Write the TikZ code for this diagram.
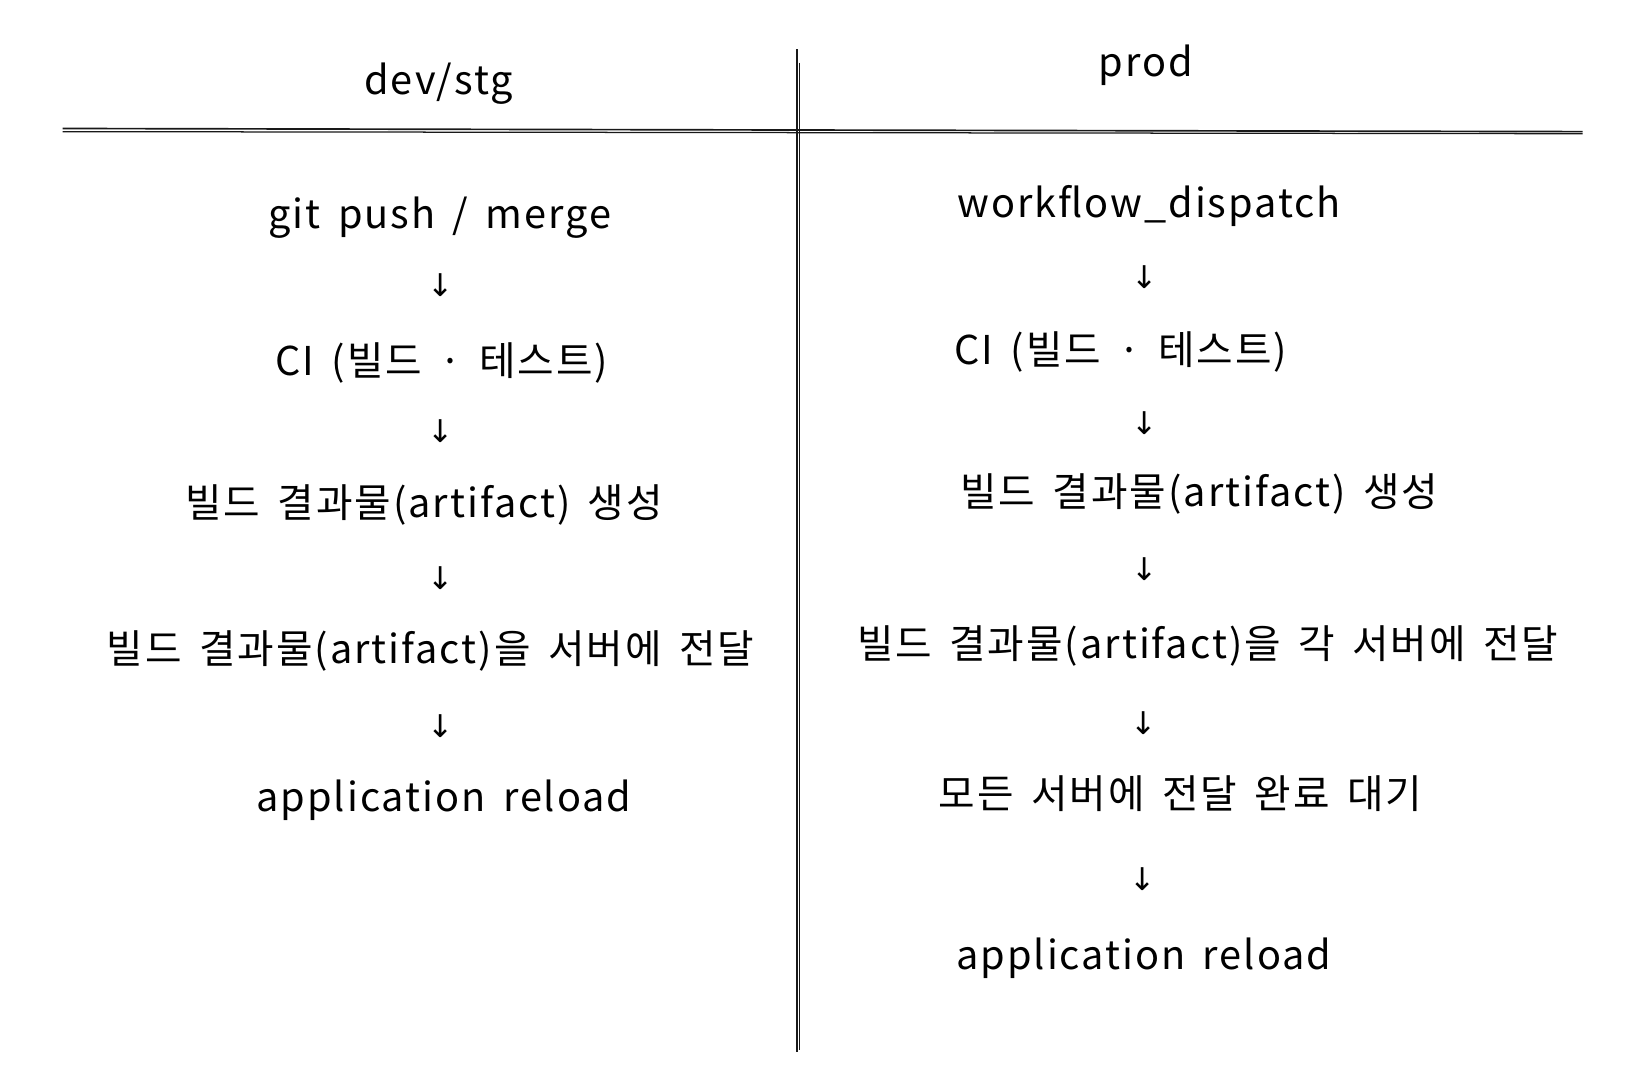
\documentclass[tikz,border=0pt]{standalone}
\usepackage{fontspec}
\setmainfont[LetterSpace=5,WordSpace=1.6]{Noto Sans CJK KR}
\newfontfamily\arrowfont{DejaVu Sans}
\begin{document}
\begin{tikzpicture}[x=1pt,y=-1pt,
  lbl/.style={inner sep=0pt,font=\fontsize{38}{42}\selectfont,text=black},
  arr/.style={inner sep=0pt,font=\arrowfont\fontsize{30}{34}\selectfont,text=black},
  rule/.style={line width=1.6pt,black!90}]
\useasboundingbox (0,0) rectangle (1568,1041.5);
% rules
\coordinate (hl) at (60,123); \coordinate (hr) at (1515,126);
\coordinate (hl2) at (60,126); \coordinate (hr2) at (1515,128);
\draw[rule] (hl) -- (hr);
\draw[rule,line width=1.2pt] (hl2) -- (hr2);
\coordinate (vt) at (763,47); \coordinate (vb) at (763,1007);
\coordinate (vt2) at (765,60); \coordinate (vb2) at (765,1005);
\draw[rule] (vt) -- (vb);
\draw[rule,line width=1.0pt] (vt2) -- (vb2);
% headers
\node[lbl] (h1) at (420,80) {dev/stg};
\node[lbl] (h2) at (1097,62) {prod};
% left column
\node[lbl] (l1) at (421,208) {git push / merge};
\node[arr] (la1) at (422,273) {↓};
\node[lbl] (l2) at (423,347) {CI (빌드 · 테스트)};
\node[arr] (la2) at (422,413) {↓};
\node[lbl] (l3) at (406,483) {빌드 결과물(artifact) 생성};
\node[arr] (la3) at (422,553) {↓};
\node[lbl] (l4) at (412,623) {빌드 결과물(artifact)을 서버에 전달};
\node[arr] (la4) at (422,695) {↓};
\node[lbl] (l5) at (425,766) {application reload};
% right column
\node[lbl] (r1) at (1100,197) {workflow\_dispatch};
\node[arr] (ra1) at (1096,265) {↓};
\node[lbl] (r2) at (1073,337) {CI (빌드 · 테스트)};
\node[arr] (ra2) at (1096,405) {↓};
\node[lbl] (r3) at (1148,473) {빌드 결과물(artifact) 생성};
\node[arr] (ra3) at (1096,545) {↓};
\node[lbl] (r4) at (1156,618) {빌드 결과물(artifact)을 각 서버에 전달};
\node[arr] (ra4) at (1095,692) {↓};
\node[lbl] (r5) at (1130,760) {모든 서버에 전달 완료 대기};
\node[arr] (ra5) at (1094,842) {↓};
\node[lbl] (r6) at (1095,917) {application reload};
\end{tikzpicture}
\end{document}
